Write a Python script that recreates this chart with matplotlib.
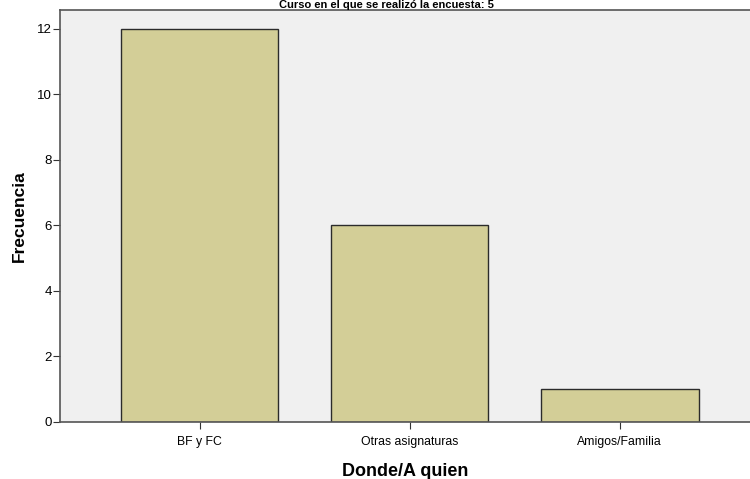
import matplotlib.pyplot as plt
import numpy as np

plt.rcParams['font.family'] = ['Liberation Sans', 'DejaVu Sans']

categorias = ["BF y FC", "Otras asignaturas", "Amigos/Familia"]
frecuencia = [12, 6, 1]
y_ticks = [0, 2, 4, 6, 8, 10, 12]

fig = plt.figure(figsize=(7.5, 4.79), dpi=100)
fig.patch.set_facecolor('white')
ax = fig.add_axes([60 / 750, 1 - 422 / 479, 1 - 60 / 750, (422 - 10) / 479])
ax.set_facecolor('#f0f0f0')

x = np.arange(len(categorias))
ax.bar(x, frecuencia, width=0.75, color='#d3ce97', edgecolor='#2b2b2b', linewidth=1)

ax.set_xlim(-0.664, 2.62)
ax.set_ylim(0, 12.58)
ax.set_yticks(y_ticks)
ax.set_xticks(x)
ax.set_xticklabels(categorias, fontsize=8.8)
ax.tick_params(axis='y', labelsize=9.5, length=5, color='#333333', pad=1)
ax.tick_params(axis='x', length=5, color='#333333', pad=5)

for s in ['left', 'top', 'bottom']:
    ax.spines[s].set_color('#555555')
    ax.spines[s].set_linewidth(1.2)
ax.spines['right'].set_visible(False)

ax.set_ylabel("Frecuencia", fontsize=12.5, fontweight='bold', labelpad=7)
ax.set_xlabel("Donde/A quien", fontsize=13, fontweight='bold', labelpad=11)

# titulo cortado arriba en la original; aqui se deja visible
fig.text(386 / 750, 1 - 8 / 479, "Curso en el que se realizó la encuesta: 5",
         ha='center', va='baseline', fontsize=8, fontweight='bold')

fig.savefig("out.png", dpi=100)
